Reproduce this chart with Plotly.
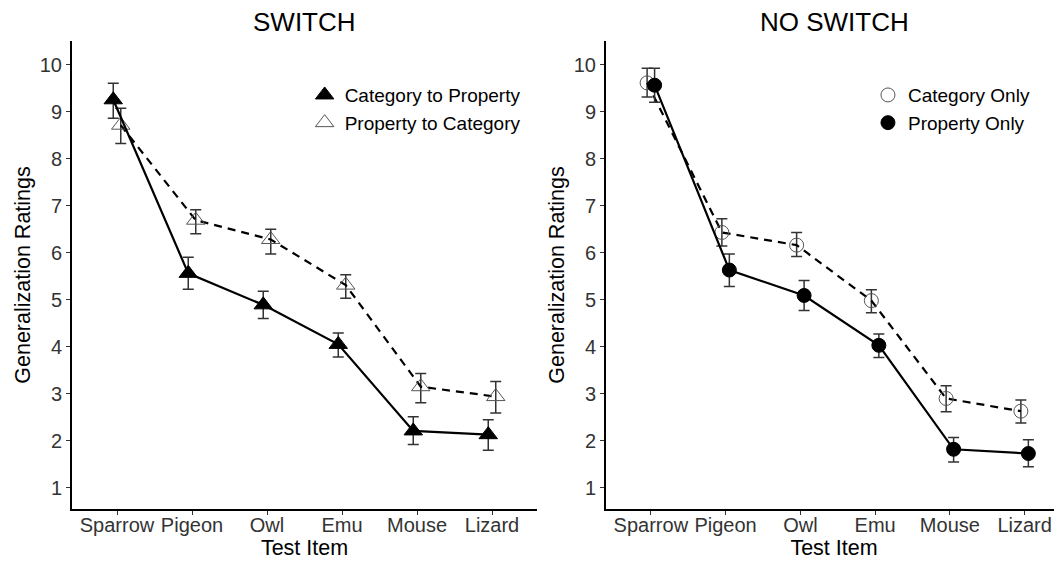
import numpy as np
import plotly.graph_objects as go

items = ["Sparrow", "Pigeon", "Owl", "Emu", "Mouse", "Lizard"]

# SWITCH panel
cat_to_prop = [9.25, 5.56, 4.89, 4.05, 2.21, 2.13]
cat_to_prop_hi = [9.60, 5.90, 5.18, 4.29, 2.51, 2.45]
cat_to_prop_lo = [8.86, 5.22, 4.60, 3.78, 1.92, 1.80]
prop_to_cat = [8.71, 6.69, 6.28, 5.31, 3.15, 2.94]
prop_to_cat_hi = [9.07, 6.91, 6.50, 5.53, 3.43, 3.26]
prop_to_cat_lo = [8.32, 6.40, 5.97, 5.03, 2.81, 2.59]

# NO SWITCH panel
cat_only = [9.61, 6.43, 6.16, 4.98, 2.90, 2.63]
cat_only_hi = [9.92, 6.72, 6.43, 5.21, 3.17, 2.87]
cat_only_lo = [9.31, 6.14, 5.92, 4.72, 2.62, 2.38]
prop_only = [9.56, 5.63, 5.09, 4.03, 1.82, 1.73]
prop_only_hi = [9.92, 5.97, 5.41, 4.27, 2.07, 2.02]
prop_only_lo = [9.20, 5.28, 4.77, 3.77, 1.55, 1.45]

FONT = "Liberation Sans, Arial, sans-serif"
DARK = "#333333"
pos = np.arange(len(items))
dodge = 0.05


def err(vals, hi, lo):
    v = np.array(vals)
    return dict(type="data", symmetric=False, array=list(np.array(hi) - v),
                arrayminus=list(v - np.array(lo)), color=DARK, thickness=1.5, width=5.5)


fig = go.Figure()


def add_series(vals, hi, lo, offset, symbol, filled, dash, xa, ya, name, legend):
    xs = list(pos + offset)
    size = 16 if "triangle" in symbol else 14
    if filled:
        marker = dict(symbol=symbol, size=size, color="black",
                      line=dict(color="black", width=1))
    else:
        marker = dict(symbol=symbol + "-open", size=size, color="#555555",
                      line=dict(color="#555555", width=1))
    fig.add_trace(go.Scatter(
        x=xs, y=vals, mode="lines+markers", xaxis=xa, yaxis=ya,
        line=dict(color="black", width=2.2, dash=dash),
        marker=marker, error_y=err(vals, hi, lo), showlegend=False, name=name,
    ))
    # legend entry (marker-only key)
    fig.add_trace(go.Scatter(
        x=[None], y=[None], mode="markers", xaxis=xa, yaxis=ya,
        marker=marker, name=name, showlegend=True, legend=legend,
    ))


add_series(prop_to_cat, prop_to_cat_hi, prop_to_cat_lo, dodge, "triangle-up", False,
           "8px,6px", "x", "y", "Property to Category", "legend")
add_series(cat_to_prop, cat_to_prop_hi, cat_to_prop_lo, -dodge, "triangle-up", True,
           "solid", "x", "y", "Category to Property", "legend")
add_series(cat_only, cat_only_hi, cat_only_lo, -dodge, "circle", False,
           "8px,6px", "x2", "y2", "Category Only", "legend2")
add_series(prop_only, prop_only_hi, prop_only_lo, dodge, "circle", True,
           "solid", "x2", "y2", "Property Only", "legend2")

axis_common = dict(
    showline=True, linecolor="black", linewidth=2, showgrid=False, zeroline=False,
    ticks="outside", ticklen=4, tickcolor=DARK, tickwidth=1, automargin=False,
    tickfont=dict(family=FONT, size=20, color=DARK),
    title_font=dict(family=FONT, size=21.5, color="black"),
)

xcommon = dict(axis_common, tickmode="array", tickvals=list(pos), ticktext=items,
               title_text="Test Item", title_standoff=5, ticklabelstandoff=-7)
ycommon = dict(axis_common, tickmode="array", tickvals=list(range(1, 11)),
               range=[0.55, 10.5], title_text="Generalization Ratings", title_standoff=3)

legend_font = dict(family=FONT, size=19, color="black")

fig.update_layout(
    width=1054, height=558,
    margin=dict(l=64, r=0, t=33, b=57),
    paper_bgcolor="white", plot_bgcolor="white",
    font=dict(family=FONT, color="black"),
    xaxis=dict(xcommon, domain=[0, 0.4697], range=[-0.6, 5.6], anchor="y"),
    yaxis=dict(ycommon, domain=[0, 1], anchor="x"),
    xaxis2=dict(xcommon, domain=[0.5394, 1], range=[-0.6, 5.5], anchor="y2"),
    yaxis2=dict(ycommon, domain=[0, 1], anchor="x2"),
    legend=dict(x=0.235, y=0.925, xanchor="left", yanchor="top",
                traceorder="reversed", bgcolor="rgba(0,0,0,0)",
                font=legend_font, itemwidth=30, tracegroupgap=0),
    legend2=dict(x=0.804, y=0.925, xanchor="left", yanchor="top",
                 bgcolor="rgba(0,0,0,0)",
                 font=legend_font, itemwidth=30, tracegroupgap=0),
    annotations=[
        dict(text="SWITCH", x=0.235, y=1, xref="paper", yref="paper",
             xanchor="center", yanchor="middle", yshift=19, showarrow=False,
             font=dict(family=FONT, size=26, color="black")),
        dict(text="NO SWITCH", x=0.7697, y=1, xref="paper", yref="paper",
             xanchor="center", yanchor="middle", yshift=19, showarrow=False,
             font=dict(family=FONT, size=26, color="black")),
    ],
)

fig.write_html("out.html")
